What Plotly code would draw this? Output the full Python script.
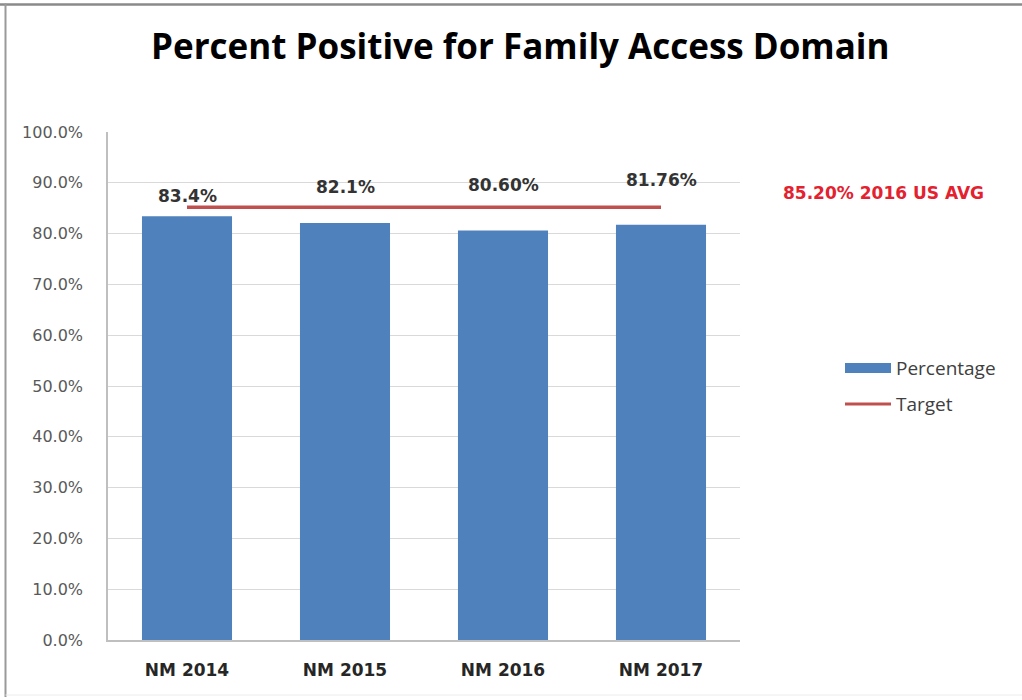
import plotly.graph_objects as go

# Chart data
categories = ["NM 2014", "NM 2015", "NM 2016", "NM 2017"]
percentage = [83.4, 82.1, 80.60, 81.76]
value_labels = ["83.4%", "82.1%", "80.60%", "81.76%"]
label_heights = [87.4, 89.2, 89.6, 90.5]
target_value = 85.20
target_text = "85.20% 2016 US AVG"
y_ticks = [0, 10, 20, 30, 40, 50, 60, 70, 80, 90, 100]
y_tick_text = [f"{v:.1f}%" for v in y_ticks]
legend_names = ["Percentage", "Target"]

BAR_COLOR = "#4f81bd"
LINE_COLOR = "#c0504d"

W, H = 1022, 700
L, R, T, B = 108, 740, 132, 640  # plot area in pixels


def px(x):
    return (x - L) / (R - L)


def py(y):
    return (B - y) / (B - T)


fig = go.Figure()

fig.add_trace(go.Bar(
    x=categories, y=percentage, name=legend_names[0],
    marker=dict(color=BAR_COLOR, line=dict(width=0)),
    width=0.57, showlegend=False,
))

fig.add_trace(go.Scatter(
    x=categories, y=[target_value] * len(categories), name=legend_names[1],
    mode="lines", line=dict(color=LINE_COLOR, width=3.5), showlegend=False,
))

annotations = []
for c, lab, h in zip(categories, value_labels, label_heights):
    annotations.append(dict(
        x=c, y=h, xref="x", yref="y", text=f"<b>{lab}</b>", showarrow=False,
        font=dict(family="DejaVu Sans", size=17, color="#333333"),
        xanchor="center", yanchor="middle",
    ))

annotations.append(dict(
    x=px(883), y=py(193), xref="paper", yref="paper",
    text=f"<b>{target_text}</b>", showarrow=False,
    font=dict(family="DejaVu Sans", size=17, color="#e3212f"),
    xanchor="center", yanchor="middle",
))

annotations.append(dict(
    x=px(520), y=py(45), xref="paper", yref="paper",
    text="<b>Percent Positive for Family Access Domain</b>", showarrow=False,
    font=dict(family="Open Sans", size=35, color="#000000"),
    xanchor="center", yanchor="middle",
))

# legend drawn as shapes with text labels
legend_y = [368, 404]
for name, ly in zip(legend_names, legend_y):
    annotations.append(dict(
        x=px(894), y=py(ly), xref="paper", yref="paper", text=name,
        showarrow=False, xanchor="left", yanchor="middle",
        font=dict(family="Open Sans", size=19, color="#404040"),
    ))

shapes = [
    # outer frame
    dict(type="line", xref="paper", yref="paper", x0=px(0), x1=px(W + 5),
         y0=py(4.5), y1=py(4.5), line=dict(color="#8a8a8a", width=2.5)),
    dict(type="line", xref="paper", yref="paper", x0=px(5.5), x1=px(5.5),
         y0=py(3.5), y1=py(697), line=dict(color="#9a9a9a", width=2)),
    dict(type="line", xref="paper", yref="paper", x0=px(5.5), x1=px(W + 5),
         y0=py(695), y1=py(695), line=dict(color="#ececec", width=1)),
    # legend keys
    dict(type="rect", xref="paper", yref="paper", x0=px(845), x1=px(891),
         y0=py(363), y1=py(373), fillcolor=BAR_COLOR, line=dict(width=0)),
    dict(type="line", xref="paper", yref="paper", x0=px(845), x1=px(891),
         y0=py(404), y1=py(404), line=dict(color=LINE_COLOR, width=3)),
]

fig.update_layout(
    width=W, height=H,
    margin=dict(l=L, r=W - R, t=T, b=H - B, pad=0),
    paper_bgcolor="white", plot_bgcolor="white",
    showlegend=False,
    bargap=0.43,
    annotations=annotations,
    shapes=shapes,
    xaxis=dict(
        showgrid=False, showline=True, linecolor="#bfbfbf", linewidth=1.5,
        ticks="", tickfont=dict(family="DejaVu Sans", size=17, color="#262626"),
        tickprefix="<b>", ticksuffix="</b>", ticklabelstandoff=14,
        fixedrange=True,
    ),
    yaxis=dict(
        range=[0, 100], tickvals=y_ticks, ticktext=y_tick_text,
        showgrid=True, gridcolor="#d9d9d9", gridwidth=1,
        showline=True, linecolor="#bfbfbf", linewidth=1.5,
        zeroline=False, ticks="", ticklabelstandoff=20,
        tickfont=dict(family="DejaVu Sans", size=16, color="#595959"),
        fixedrange=True,
    ),
)

fig.write_html("out.html")
